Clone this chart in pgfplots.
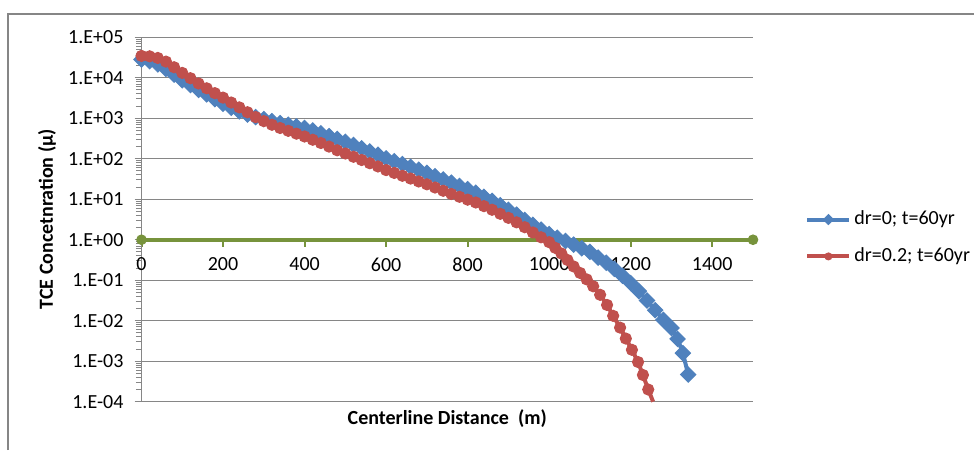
\documentclass[border=0pt]{standalone}
\usepackage{pgfplots}
\pgfplotsset{compat=1.18}
\usepackage{fontspec}
\setmainfont{Carlito}

\definecolor{serblue}{HTML}{4F81BD}
\definecolor{serred}{HTML}{C0504D}
\definecolor{sergreen}{HTML}{77933C}
\definecolor{gridgray}{RGB}{134,134,134}

% concentration along the centerline, two dispersion cases
\pgfplotstableread{
x y
0 2.82e4
20 2.57e4
40 2.14e4
60 1.66e4
80 1.20e4
100 8.71e3
120 6.61e3
140 5.01e3
160 3.89e3
180 2.95e3
200 2.29e3
220 1.82e3
240 1.48e3
260 1.23e3
280 1.07e3
300 955
320 851
340 759
360 692
380 631
400 575
420 501
440 427
460 363
480 309
500 263
520 219
540 182
560 151
580 126
600 102
620 87.1
640 74.1
660 63.1
680 53.7
700 44.7
720 37.2
740 30.9
760 25.7
780 21.4
800 17.8
820 14.5
840 11.5
860 9.12
880 7.08
900 5.50
920 4.17
940 3.09
960 2.34
980 1.78
1000 1.38
1020 1.12
1040 0.933
1060 0.759
1080 0.617
1100 0.501
1120 0.363
1140 0.269
1160 0.191
1180 0.129
1200 0.0851
1220 0.0537
1240 0.0316
1260 0.0182
1280 0.0105
1300 0.00661
1315 0.00355
1328 0.00158
1341 0.000468
}\drzero

\pgfplotstableread{
x y
0 3.47e4
20 3.39e4
40 3.09e4
60 2.51e4
80 1.82e4
100 1.32e4
120 9.77e3
140 7.24e3
160 5.50e3
180 4.17e3
200 3.24e3
220 2.45e3
240 1.86e3
260 1.41e3
280 1.07e3
300 851
320 692
340 575
360 490
380 417
400 355
420 295
440 245
460 200
480 162
500 135
520 112
540 93.3
560 77.6
580 64.6
600 52.5
620 44.7
640 38.0
660 32.4
680 27.5
700 23.4
720 19.5
740 16.2
760 13.5
780 11.5
800 9.77
820 8.32
840 6.76
860 5.50
880 4.37
900 3.47
920 2.69
940 2.04
960 1.51
980 1.15
1000 0.871
1015 0.631
1030 0.457
1045 0.316
1060 0.219
1076 0.151
1092 0.105
1108 0.0708
1125 0.0437
1142 0.0245
1157 0.0132
1174 0.00676
1188 0.00363
1203 0.00191
1218 0.000955
1230 0.000457
1243 0.000200
1255 0.000100
}\drtwo

\begin{document}
\frenchspacing
\begin{tikzpicture}
\path[use as bounding box] (0,0) rectangle (487pt,225pt);
\fill[white] (0,0) rectangle (487pt,225pt);
\draw[gridgray, line width=1pt] (4pt,0) -- (4pt,218pt) -- (487pt,218pt);
\begin{axis}[
  at={(70.75pt,24.15pt)}, anchor=south west,
  scale only axis, width=305.75pt, height=182.2pt,
  xmin=0, xmax=1500, ymode=log, ymin=1e-4, ymax=1e5,
  clip=false,
  axis x line=middle, axis y line=left,
  x axis line style={-, draw=none},
  y axis line style={-, draw=gridgray, line width=0.5pt},
  xtick={0,200,...,1400},
  ytick={1e-4,1e-3,1e-2,1e-1,1,1e1,1e2,1e3,1e4,1e5},
  yticklabels={1.E-04,1.E-03,1.E-02,1.E-01,1.E+00,1.E+01,1.E+02,1.E+03,1.E+04,1.E+05},
  minor ytick={},
  hide obscured x ticks=false,
  tick align=outside,
  major tick length=3.5pt,
  x tick style={draw=sergreen, line width=1pt},
  y tick style={draw=gridgray, line width=0.5pt},
  ymajorgrids, major grid style={draw=gridgray, line width=0.5pt},
  /pgf/number format/1000 sep={},
  /pgf/number format/assume math mode=true,
  tick label style={font=\fontsize{10}{12}\selectfont},
  xticklabel style={yshift=-2pt},
  yticklabel style={xshift=-2pt},
  every axis x label/.style={at={(axis description cs:0.5,-0.0475)}, anchor=center,
    font=\bfseries\fontsize{10}{12}\selectfont},
  every axis y label/.style={at={(axis description cs:-0.1545,0.501)}, rotate=90, anchor=center,
    font=\bfseries\fontsize{10}{12}\selectfont},
  xlabel={Centerline Distance\ \ (m)},
  ylabel={TCE Concetnration (µ)},
  legend style={at={(1.085,0.4493)}, anchor=west, draw=none, fill=none,
    inner sep=0pt, row sep=6pt, font=\fontsize{10}{12}\selectfont,
    nodes={inner xsep=1.5pt}},
  legend cell align=left,
  legend image code/.code={
    \draw[#1, mark indices={2}, mark size=1.75pt] plot coordinates {(0pt,0pt) (10.5pt,0pt) (21pt,0pt)};
  },
]
\addplot[sergreen, line width=2.2pt, mark=*, mark size=2.4pt,
  mark options={line width=0.5pt}, forget plot]
  coordinates {(0,1) (1500,1)};
\addplot[serblue, line width=2pt, mark=square*, mark size=2.7pt,
  mark options={rotate=45, solid, line width=0.5pt}] table[x=x, y=y] {\drzero};
\addlegendentry{dr=0; t=60yr}
\addplot[serred, line width=2pt, mark=*, mark size=2.8pt,
  mark options={line width=0.5pt},
  mark indices={1,...,67}] table[x=x, y=y] {\drtwo};
\addlegendentry{dr=0.2; t=60yr}
\end{axis}
\end{tikzpicture}
\end{document}
